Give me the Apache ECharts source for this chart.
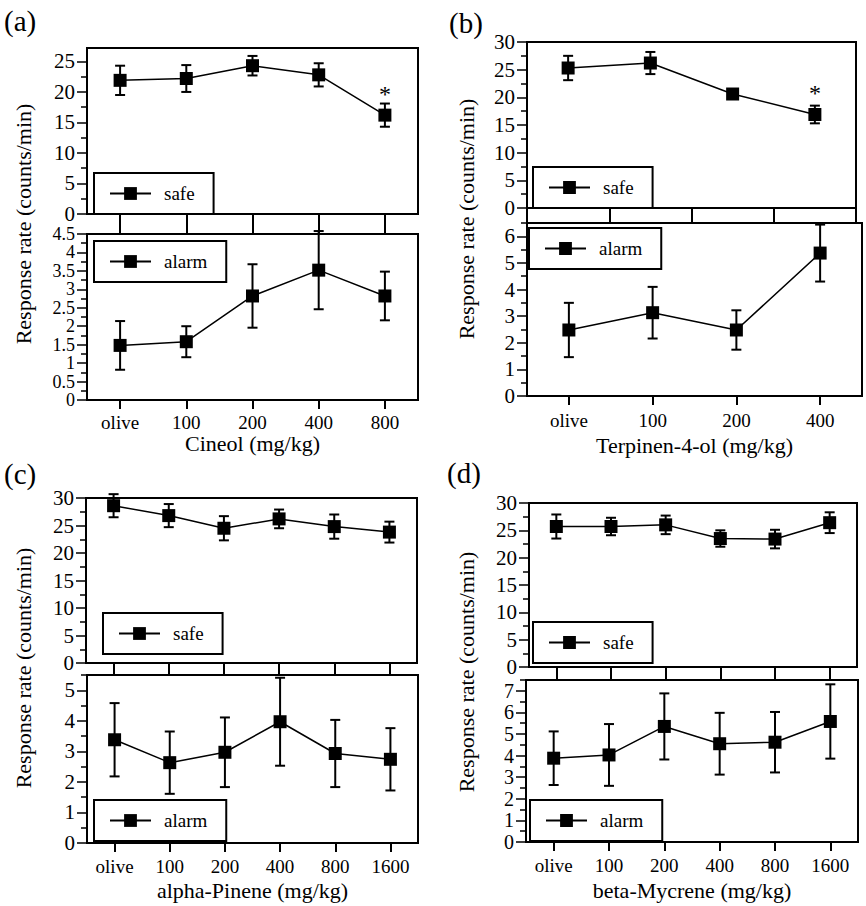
<!DOCTYPE html>
<html><head><meta charset="utf-8">
<script src="https://cdn.jsdelivr.net/npm/echarts@6/dist/echarts.min.js"></script>
<style>html,body{margin:0;padding:0;background:#fff}#c{width:866px;height:906px}</style>
</head><body><div id="c"></div>
<script>
const FONT = 'Liberation Serif';

// ---- Panel (a) Cineol ----
const catsA = ['olive', '100', '200', '400', '800'];
const safeA = [21.9, 22.2, 24.3, 22.8, 16.2];
const safeErrA = [2.4, 2.2, 1.6, 1.9, 1.9];
const alarmA = [1.48, 1.58, 2.82, 3.52, 2.82];
const alarmErrA = [0.66, 0.42, 0.86, 1.06, 0.66];
const sigA = [false, false, false, false, true];
const safeTicksA = [0, 5, 10, 15, 20, 25];
const safeMinorA = [2.5, 7.5, 12.5, 17.5, 22.5];
const alarmTicksA = [0, 0.5, 1, 1.5, 2, 2.5, 3, 3.5, 4, 4.5];
const alarmMinorA = [0.25, 0.75, 1.25, 1.75, 2.25, 2.75, 3.25, 3.75, 4.25];

// ---- Panel (b) Terpinen-4-ol ----
const catsB = ['olive', '100', '200', '400'];
const safeB = [25.3, 26.2, 20.6, 16.9];
const safeErrB = [2.2, 2.0, 0.9, 1.6];
const alarmB = [2.48, 3.13, 2.48, 5.37];
const alarmErrB = [1.02, 0.97, 0.74, 1.07];
const sigB = [false, false, false, true];
const safeTicksB = [0, 5, 10, 15, 20, 25, 30];
const safeMinorB = [2.5, 7.5, 12.5, 17.5, 22.5, 27.5];
const alarmTicksB = [0, 1, 2, 3, 4, 5, 6];
const alarmMinorB = [0.5, 1.5, 2.5, 3.5, 4.5, 5.5, 6.5];

// ---- Panel (c) alpha-Pinene ----
const catsC = ['olive', '100', '200', '400', '800', '1600'];
const safeC = [28.6, 26.8, 24.5, 26.2, 24.8, 23.8];
const safeErrC = [2.1, 2.1, 2.2, 1.7, 2.2, 1.9];
const alarmC = [3.38, 2.63, 2.97, 3.97, 2.93, 2.74];
const alarmErrC = [1.2, 1.02, 1.14, 1.44, 1.1, 1.02];
const sigC = [false, false, false, false, false, false];
const safeTicksC = [0, 5, 10, 15, 20, 25, 30];
const safeMinorC = [2.5, 7.5, 12.5, 17.5, 22.5, 27.5];
const alarmTicksC = [0, 1, 2, 3, 4, 5];
const alarmMinorC = [0.5, 1.5, 2.5, 3.5, 4.5, 5.5];

// ---- Panel (d) beta-Mycrene ----
const catsD = ['olive', '100', '200', '400', '800', '1600'];
const safeD = [25.7, 25.7, 26.0, 23.5, 23.4, 26.4];
const safeErrD = [2.2, 1.6, 1.7, 1.5, 1.7, 1.9];
const alarmD = [3.88, 4.03, 5.35, 4.55, 4.62, 5.58];
const alarmErrD = [1.24, 1.43, 1.53, 1.43, 1.4, 1.72];
const sigD = [false, false, false, false, false, false];
const safeTicksD = [0, 5, 10, 15, 20, 25, 30];
const safeMinorD = [2.5, 7.5, 12.5, 17.5, 22.5, 27.5];
const alarmTicksD = [0, 1, 2, 3, 4, 5, 6, 7];
const alarmMinorD = [0.5, 1.5, 2.5, 3.5, 4.5, 5.5, 6.5, 7.5];

const yTitle = 'Response rate (counts/min)';

const panels = [
  {letter: '(a)', letterXY: [4, 21], cats: catsA, xName: 'Cineol (mg/kg)',
   safe: safeA, safeErr: safeErrA, alarm: alarmA, alarmErr: alarmErrA, sig: sigA,
   safeMax: 27.2, safeTicks: safeTicksA, safeMinor: safeMinorA,
   alarmMax: 4.5, alarmTicks: alarmTicksA, alarmMinor: alarmMinorA, alarmFont: 18,
   gTop: {left: 87, top: 48, width: 331, height: 166},
   gBot: {left: 87, top: 234, width: 331, height: 166},
   gapTick: 20, boundaryTicks: false, labelMargin: 13, nameGap: 32, titleXY: [23, 224],
   legSafe: {left: 94, top: 173}, legAlarm: {left: 94, top: 241}},
  {letter: '(b)', letterXY: [449, 23], cats: catsB, xName: 'Terpinen-4-ol (mg/kg)',
   safe: safeB, safeErr: safeErrB, alarm: alarmB, alarmErr: alarmErrB, sig: sigB,
   safeMax: 30, safeTicks: safeTicksB, safeMinor: safeMinorB,
   alarmMax: 6.5, alarmTicks: alarmTicksB, alarmMinor: alarmMinorB, alarmFont: 21,
   gTop: {left: 527, top: 42, width: 329, height: 166},
   gBot: {left: 527, top: 223, width: 335, height: 173},
   gapTick: 15, boundaryTicks: true, labelMargin: 15, nameGap: 38, titleXY: [466, 219],
   legSafe: {left: 533, top: 167}, legAlarm: {left: 529, top: 228}},
  {letter: '(c)', letterXY: [4, 474], cats: catsC, xName: 'alpha-Pinene (mg/kg)',
   safe: safeC, safeErr: safeErrC, alarm: alarmC, alarmErr: alarmErrC, sig: sigC,
   safeMax: 30, safeTicks: safeTicksC, safeMinor: safeMinorC,
   alarmMax: 5.5, alarmTicks: alarmTicksC, alarmMinor: alarmMinorC, alarmFont: 21,
   gTop: {left: 86, top: 498, width: 331, height: 165},
   gBot: {left: 87, top: 675, width: 331, height: 168},
   gapTick: 12, boundaryTicks: false, labelMargin: 14, nameGap: 36, titleXY: [23, 668],
   legSafe: {left: 103, top: 613}, legAlarm: {left: 94, top: 800}},
  {letter: '(d)', letterXY: [447, 473], cats: catsD, xName: 'beta-Mycrene (mg/kg)',
   safe: safeD, safeErr: safeErrD, alarm: alarmD, alarmErr: alarmErrD, sig: sigD,
   safeMax: 30, safeTicks: safeTicksD, safeMinor: safeMinorD,
   alarmMax: 7.5, alarmTicks: alarmTicksD, alarmMinor: alarmMinorD, alarmFont: 20,
   gTop: {left: 529, top: 503, width: 328, height: 164},
   gBot: {left: 526, top: 680, width: 332, height: 162},
   gapTick: 13, boundaryTicks: false, labelMargin: 14, nameGap: 37, titleXY: [466, 672],
   legSafe: {left: 533, top: 622}, legAlarm: {left: 530, top: 800}}
];

const BLACK = '#000';
const grids = [], xAxes = [], yAxes = [], series = [], legends = [], graphics = [];

function renderErr(params, api) {
  const x = api.value(0), lo = api.value(1), hi = api.value(2);
  const p1 = api.coord([x, hi]);
  const p2 = api.coord([x, lo]);
  const w = 5;
  const style = {stroke: BLACK, lineWidth: 2, fill: null};
  return {type: 'group', children: [
    {type: 'line', shape: {x1: p1[0], y1: p1[1], x2: p2[0], y2: p2[1]}, style: style},
    {type: 'line', shape: {x1: p1[0] - w, y1: p1[1], x2: p1[0] + w, y2: p1[1]}, style: style},
    {type: 'line', shape: {x1: p2[0] - w, y1: p2[1], x2: p2[0] + w, y2: p2[1]}, style: style}
  ]};
}

function yMain(gi, max, ticks, fs) {
  return {type: 'value', gridIndex: gi, position: 'left', min: 0, max: max,
    axisLine: {show: true, onZero: false, lineStyle: {color: BLACK, width: 2}},
    axisTick: {show: true, length: 10, customValues: ticks, lineStyle: {color: BLACK, width: 1.5}},
    axisLabel: {show: true, customValues: ticks, margin: 12, color: BLACK, fontFamily: FONT,
      fontSize: fs, lineHeight: fs <= 18 ? 17 : 18, showMinLabel: true, showMaxLabel: true, hideOverlap: false},
    splitLine: {show: false}};
}
function yMinor(gi, max, ticks) {
  return {type: 'value', gridIndex: gi, position: 'left', min: 0, max: max,
    axisLine: {show: false},
    axisTick: {show: true, length: 6, customValues: ticks, lineStyle: {color: BLACK, width: 1.5}},
    axisLabel: {show: false},
    splitLine: {show: false}};
}
function legendAt(name, pos) {
  return {data: [name], left: pos.left, top: pos.top, orient: 'horizontal',
    itemWidth: 41, itemHeight: 16, borderColor: BLACK, borderWidth: 2, borderRadius: 0,
    padding: [11, 19, 11, 15], selectedMode: false, backgroundColor: '#fff',
    textStyle: {color: BLACK, fontFamily: FONT, fontSize: 19, padding: [0, 0, 0, 8]}};
}

panels.forEach((p, k) => {
  const gt = 2 * k, gb = 2 * k + 1;
  grids.push(Object.assign({show: true, borderColor: BLACK, borderWidth: 2, backgroundColor: 'transparent',
    containLabel: false, outerBoundsMode: 'none'}, p.gTop));
  grids.push(Object.assign({show: true, borderColor: BLACK, borderWidth: 2, backgroundColor: 'transparent',
    containLabel: false, outerBoundsMode: 'none'}, p.gBot));

  xAxes.push({type: 'category', gridIndex: gt, data: p.cats, boundaryGap: true,
    axisLine: {show: true, lineStyle: {color: BLACK, width: 2}},
    axisTick: {show: true, alignWithLabel: !p.boundaryTicks, length: p.gapTick, lineStyle: {color: BLACK, width: 2}},
    axisLabel: {show: false}, splitLine: {show: false}});
  xAxes.push({type: 'category', gridIndex: gb, data: p.cats, boundaryGap: true,
    axisLine: {show: true, lineStyle: {color: BLACK, width: 2}},
    axisTick: {show: true, alignWithLabel: true, length: 9, lineStyle: {color: BLACK, width: 2}},
    axisLabel: {show: true, margin: p.labelMargin, color: BLACK, fontFamily: FONT, fontSize: 19, interval: 0},
    splitLine: {show: false},
    name: p.xName, nameLocation: 'middle', nameGap: p.nameGap,
    nameTextStyle: {color: BLACK, fontFamily: FONT, fontSize: 22}});

  const yt = 4 * k, yb = 4 * k + 2;
  yAxes.push(yMain(gt, p.safeMax, p.safeTicks, 21));
  yAxes.push(yMinor(gt, p.safeMax, p.safeMinor));
  yAxes.push(yMain(gb, p.alarmMax, p.alarmTicks, p.alarmFont));
  yAxes.push(yMinor(gb, p.alarmMax, p.alarmMinor));

  const lineCommon = {type: 'line', symbol: 'rect', symbolSize: 13, showAllSymbol: true,
    lineStyle: {color: BLACK, width: 1.5}, itemStyle: {color: BLACK}, z: 3, animation: false};

  series.push(Object.assign({}, lineCommon, {name: 'safe', xAxisIndex: gt, yAxisIndex: yt,
    data: p.safe.map((v, i) => p.sig[i] ? {value: v, label: {show: true, formatter: '*', position: 'top',
      distance: 3, color: BLACK, fontFamily: FONT, fontSize: 24}} : v)}));
  series.push({type: 'custom', name: 'err', xAxisIndex: gt, yAxisIndex: yt, renderItem: renderErr, z: 2,
    encode: {x: 0, y: [1, 2]}, data: p.safe.map((v, i) => [i, v - p.safeErr[i], v + p.safeErr[i]])});
  series.push(Object.assign({}, lineCommon, {name: 'alarm', xAxisIndex: gb, yAxisIndex: yb, data: p.alarm.slice()}));
  series.push({type: 'custom', name: 'err', xAxisIndex: gb, yAxisIndex: yb, renderItem: renderErr, z: 2,
    encode: {x: 0, y: [1, 2]}, data: p.alarm.map((v, i) => [i, v - p.alarmErr[i], v + p.alarmErr[i]])});

  legends.push(legendAt('safe', p.legSafe));
  legends.push(legendAt('alarm', p.legAlarm));

  graphics.push({type: 'text', x: p.letterXY[0], y: p.letterXY[1],
    style: {text: p.letter, fill: BLACK, fontFamily: FONT, fontSize: 29, align: 'left', verticalAlign: 'middle'}});
  graphics.push({type: 'text', x: p.titleXY[0], y: p.titleXY[1], rotation: Math.PI / 2,
    style: {text: yTitle, fill: BLACK, fontFamily: FONT, fontSize: 22, align: 'center', verticalAlign: 'middle'}});
});

const chart = echarts.init(document.getElementById('c'), null, {renderer: 'svg', width: 866, height: 906});
chart.setOption({
  backgroundColor: '#fff',
  animation: false,
  grid: grids, xAxis: xAxes, yAxis: yAxes, series: series, legend: legends, graphic: graphics
});
</script>
</body></html>
